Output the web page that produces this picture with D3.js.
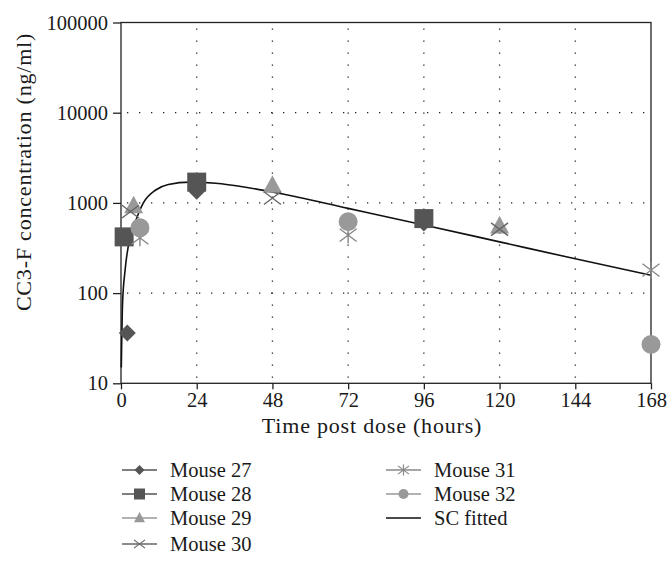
<!DOCTYPE html>
<html>
<head>
<meta charset="utf-8">
<script src="https://cdn.jsdelivr.net/npm/d3@7"></script>
<style>
  body { margin: 0; background: #fff; }
  text { font-family: "Liberation Serif", "DejaVu Serif", serif; fill: #1a1a1a; }
</style>
</head>
<body>
<div id="chart"></div>
<script>
const width = 667, height = 567;
const margin = { left: 121, top: 22.5, right: 16, bottom: 184 };
const fontSize = 20.5;
const titleSize = 22;

// sampled concentrations (ng/ml) per mouse, hours post dose
const mouse27 = [[2, 36], [24, 1350], [96, 600]];
const mouse28 = [[1, 420], [24, 1700], [96, 670]];
const mouse29 = [[4, 920], [48, 1550], [120, 550]];
const mouse30 = [[3, 800], [48, 1130], [120, 510]];
const mouse31 = [[6, 410], [72, 440], [168, 180]];
const mouse32 = [[6, 530], [72, 620], [168, 27]];

// SC fitted curve
const fitTimes = [0.1, 0.5, 1.3, 2.9, 4.4, 7, 11, 15, 22, 30, 40, 50, 72, 96, 120, 144, 168];
const fitValues = [15, 78, 180, 420, 600, 990, 1390, 1600, 1700, 1650, 1480, 1280, 870, 570, 370, 240, 158];

const xTicks = [0, 24, 48, 72, 96, 120, 144, 168];
const yTicks = [10, 100, 1000, 10000, 100000];

const series = [
  { name: "Mouse 27", data: mouse27, shape: "diamond", color: "#555" },
  { name: "Mouse 28", data: mouse28, shape: "square", color: "#555" },
  { name: "Mouse 29", data: mouse29, shape: "triangle", color: "#999" },
  { name: "Mouse 30", data: mouse30, shape: "cross", color: "#666" },
  { name: "Mouse 31", data: mouse31, shape: "star", color: "#888" },
  { name: "Mouse 32", data: mouse32, shape: "circle", color: "#999" }
];

const innerW = width - margin.left - margin.right;
const innerH = 383.3 - margin.top;

const svg = d3.select("#chart").append("svg")
  .attr("width", width)
  .attr("height", height);

const x = d3.scaleLinear().domain([0, 168]).range([margin.left, margin.left + innerW]);
const y = d3.scaleLog().domain([10, 100000]).range([margin.top + innerH, margin.top]);

// dotted grid
const grid = svg.append("g").attr("class", "grid")
  .attr("stroke", "#222").attr("stroke-width", 1.3).attr("stroke-dasharray", "1.3,10.7");
grid.selectAll("line.v").data(xTicks.slice(1, -1)).enter().append("line")
  .attr("x1", d => x(d)).attr("x2", d => x(d))
  .attr("y1", margin.top + 6).attr("y2", margin.top + innerH);
grid.selectAll("line.h").data(yTicks.slice(1, -1)).enter().append("line")
  .attr("x1", margin.left + 6).attr("x2", margin.left + innerW)
  .attr("y1", d => y(d)).attr("y2", d => y(d));

// frame
svg.append("rect")
  .attr("x", margin.left).attr("y", margin.top)
  .attr("width", innerW).attr("height", innerH)
  .attr("fill", "none").attr("stroke", "#222").attr("stroke-width", 1.3);

// axes
const xAxis = svg.append("g")
  .attr("transform", `translate(0,${margin.top + innerH})`)
  .call(d3.axisBottom(x).tickValues(xTicks).tickSize(6).tickPadding(3).tickFormat(d3.format("d")));
const yAxis = svg.append("g")
  .attr("transform", `translate(${margin.left},0)`)
  .call(d3.axisLeft(y).tickValues(yTicks).tickSize(8).tickPadding(5).tickFormat(d3.format("d")));
[xAxis, yAxis].forEach(a => {
  a.attr("font-family", null);
  a.select(".domain").remove();
  a.selectAll(".tick line").attr("stroke", "#222").attr("stroke-width", 1.3);
  a.selectAll(".tick text").attr("font-size", fontSize).attr("fill", "#1a1a1a");
});

svg.append("text")
  .attr("x", 372).attr("y", 433)
  .attr("text-anchor", "middle").attr("font-size", titleSize)
  .attr("letter-spacing", 0.8)
  .text("Time post dose (hours)");

svg.append("text")
  .attr("transform", `translate(31,${172}) rotate(-90)`)
  .attr("text-anchor", "middle").attr("font-size", titleSize)
  .attr("letter-spacing", 0.8)
  .text("CC3-F concentration (ng/ml)");

// marker paths
function markerPath(shape, s) {
  const p = d3.path();
  if (shape === "diamond") {
    p.moveTo(0, -s); p.lineTo(s, 0); p.lineTo(0, s); p.lineTo(-s, 0); p.closePath();
  } else if (shape === "square") {
    p.rect(-s, -s, 2 * s, 2 * s);
  } else if (shape === "triangle") {
    p.moveTo(0, -s * 1.1); p.lineTo(s, s * 0.75); p.lineTo(-s, s * 0.75); p.closePath();
  } else if (shape === "circle") {
    p.arc(0, 0, s, 0, 2 * Math.PI);
  } else if (shape === "cross" || shape === "star") {
    p.moveTo(-s, -s * 0.75); p.lineTo(s, s * 0.75);
    p.moveTo(-s, s * 0.75); p.lineTo(s, -s * 0.75);
    if (shape === "star") { p.moveTo(0, -s); p.lineTo(0, s); }
  }
  return p.toString();
}
const filled = sh => sh !== "cross" && sh !== "star";
const plotSize = { diamond: 8.5, square: 9.5, triangle: 9.5, circle: 9.5, cross: 8.5, star: 8.5 };
const legendSize = { diamond: 5, square: 5.5, triangle: 5.5, circle: 5, cross: 5.5, star: 5.5 };

// fitted curve
const fitPoints = fitTimes.map((t, i) => [t, fitValues[i]]);
svg.append("path")
  .datum(fitPoints)
  .attr("fill", "none").attr("stroke", "#111").attr("stroke-width", 1.6)
  .attr("d", d3.line().curve(d3.curveMonotoneX).x(d => x(d[0])).y(d => y(d[1])));

// points
series.forEach(s => {
  svg.append("g").selectAll("path").data(s.data).enter().append("path")
    .attr("transform", d => `translate(${x(d[0])},${y(d[1])})`)
    .attr("d", markerPath(s.shape, plotSize[s.shape]))
    .attr("fill", filled(s.shape) ? s.color : "none")
    .attr("stroke", s.color)
    .attr("stroke-width", filled(s.shape) ? 0 : 1.4);
});

// legend
const legendItems = series.map(s => ({ name: s.name, shape: s.shape, color: s.color }))
  .concat([{ name: "SC fitted", shape: null, color: "#111" }]);
const legendPos = [[122, 470], [122, 494], [122, 518], [122, 544], [386, 470], [386, 494], [386, 518]];
const legend = svg.append("g").selectAll("g").data(legendItems).enter().append("g")
  .attr("transform", (d, i) => `translate(${legendPos[i][0]},${legendPos[i][1]})`);
legend.append("line")
  .attr("x1", 0).attr("x2", 35).attr("y1", 0).attr("y2", 0)
  .attr("stroke", d => d.color).attr("stroke-width", d => d.shape ? 1.3 : 1.6);
legend.filter(d => d.shape).append("path")
  .attr("transform", "translate(17.5,0)")
  .attr("d", d => markerPath(d.shape, legendSize[d.shape]))
  .attr("fill", d => filled(d.shape) ? d.color : "none")
  .attr("stroke", d => d.color)
  .attr("stroke-width", d => filled(d.shape) ? 0 : 1.2);
legend.append("text")
  .attr("x", 48).attr("y", 7).attr("font-size", fontSize)
  .text(d => d.name);
</script>
</body>
</html>
